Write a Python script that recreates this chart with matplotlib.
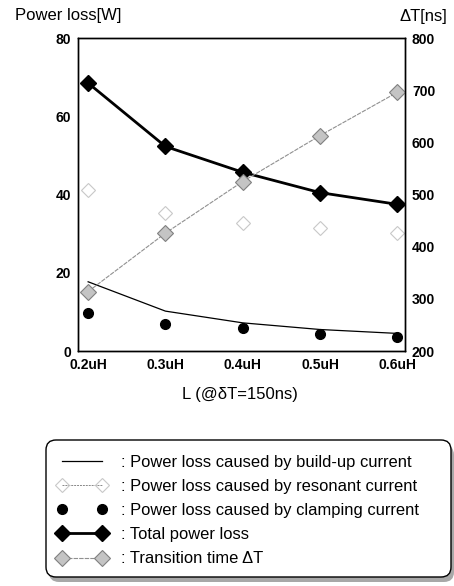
import matplotlib
matplotlib.use("Agg")
import matplotlib.pyplot as plt
from matplotlib.lines import Line2D
from matplotlib.patches import FancyBboxPatch

plt.rcParams['font.family'] = ['Liberation Sans', 'DejaVu Sans']

# data
inductance = ['0.2uH', '0.3uH', '0.4uH', '0.5uH', '0.6uH']
buildup_loss = [17.7, 10.2, 7.2, 5.5, 4.5]
resonant_loss = [41.2, 35.2, 32.8, 31.4, 30.1]
clamping_loss = [9.6, 6.9, 5.8, 4.3, 3.5]
total_loss = [68.5, 52.3, 45.7, 40.5, 37.5]
transition_time = [314, 426, 525, 613, 696]

x = list(range(len(inductance)))

fig = plt.figure(figsize=(4.54, 5.86), dpi=100)
ax = fig.add_axes([0.172, 0.401, 0.72, 0.534])
ax2 = ax.twinx()

# power loss curves (left axis)
ax.plot(x, buildup_loss, color='black', lw=0.9)
ax.plot(x, resonant_loss, ls='none', marker='D', ms=7, mfc='none',
        mec='#c8c8c8', mew=0.8)
ax.plot(x, clamping_loss, ls='none', marker='o', ms=7, color='black')
ax.plot(x, total_loss, color='black', lw=2, marker='D', ms=8)

# transition time (right axis)
ax2.plot(x, transition_time, color='#909090', lw=0.8, ls=(0, (4, 1)),
         marker='D', ms=8, mfc='#c4c4c4', mec='#808080', mew=0.8)

ax.set_xlim(-0.13, 4.1)
ax.set_ylim(0, 80)
ax2.set_ylim(200, 800)
ax.set_xticks(x)
ax.set_xticklabels(inductance)
ax.set_yticks([0, 20, 40, 60, 80])
ax2.set_yticks([200, 300, 400, 500, 600, 700, 800])

for a in (ax, ax2):
    a.tick_params(length=0, labelsize=10, pad=5)
    for lab in a.get_xticklabels() + a.get_yticklabels():
        lab.set_fontweight('bold')
    for s in a.spines.values():
        s.set_linewidth(1.0)
ax.tick_params(axis='x', pad=5)

fig.text(0.033, 0.974, 'Power loss[W]', fontsize=12, ha='left', va='center')
fig.text(0.985, 0.972, '\u0394T[ns]', fontsize=12, ha='right', va='center')
fig.text(0.529, 0.326, 'L (@\u03b4T=150ns)', fontsize=12, ha='center', va='center')

# legend box drawn by hand so it can carry the offset shadow
shadow = FancyBboxPatch((0.49, 0.04), 4.05, 1.37,
                        boxstyle='round,pad=0,rounding_size=0.1',
                        transform=fig.dpi_scale_trans, fc='#a8a8a8', ec='none',
                        zorder=1)
box = FancyBboxPatch((0.46, 0.09), 4.05, 1.37,
                     boxstyle='round,pad=0,rounding_size=0.1',
                     transform=fig.dpi_scale_trans, fc='white', ec='black',
                     lw=1.0, zorder=2)
fig.add_artist(shadow)
fig.add_artist(box)

handles = [
    Line2D([], [], color='black', lw=0.9),
    Line2D([], [], color='#888888', lw=0.7, ls=(0, (2, 1)), marker='D', ms=7,
           mfc='none', mec='#c8c8c8', mew=0.8),
    Line2D([], [], ls='none', marker='o', ms=7, color='black'),
    Line2D([], [], color='black', lw=2, marker='D', ms=8),
    Line2D([], [], color='#909090', lw=0.8, ls=(0, (4, 1)), marker='D', ms=8,
           mfc='#c4c4c4', mec='#808080', mew=0.8),
]
labels = [
    ': Power loss caused by build-up current',
    ': Power loss caused by resonant current',
    ': Power loss caused by clamping current',
    ': Total power loss',
    ': Transition time \u0394T',
]
leg = fig.legend(handles, labels, loc='upper left',
                 bbox_to_anchor=(57 / 454, 1 - 455 / 586),
                 fontsize=11.9, numpoints=2, handlelength=3.0, handletextpad=0.85,
                 labelspacing=0.55, borderpad=0, borderaxespad=0, frameon=False)
leg.set_zorder(3)

fig.savefig('out.png', dpi=100)
